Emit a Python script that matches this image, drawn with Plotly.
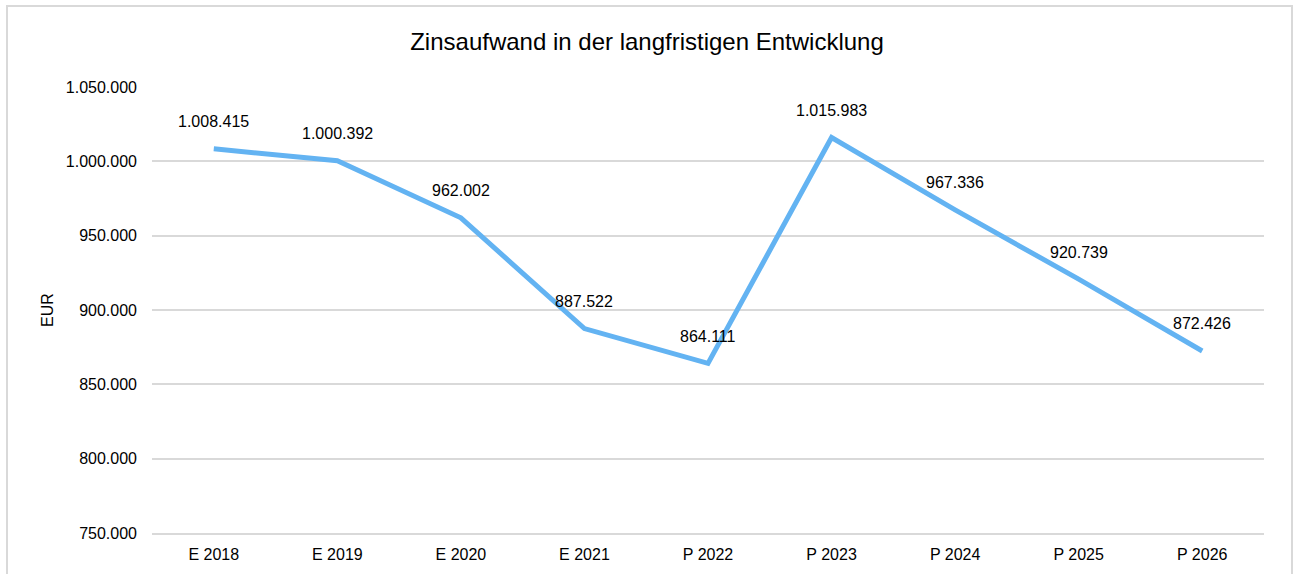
import plotly.graph_objects as go

categories = ["E 2018", "E 2019", "E 2020", "E 2021", "P 2022", "P 2023", "P 2024", "P 2025", "P 2026"]
values = [1008415, 1000392, 962002, 887522, 864111, 1015983, 967336, 920739, 872426]
y_ticks = [750000, 800000, 850000, 900000, 950000, 1000000, 1050000]

def fmt(v):
    return f"{v:,}".replace(",", ".")

W, H = 1294, 574
L, R, T, B = 152, 30, 87, 41
pw, ph = W - L - R, H - T - B
FONT = "Liberation Sans, Arial"

fig = go.Figure()
fig.add_trace(go.Scatter(
    x=categories, y=values, mode="lines",
    line=dict(color="#63B3F2", width=5),
    hoverinfo="x+y", showlegend=False,
))

for c, v in zip(categories, values):
    fig.add_annotation(x=c, y=v, text=fmt(v), showarrow=False, yshift=27,
                       font=dict(family=FONT, size=16, color="#000000"))

def px(x):
    return (x - L) / pw

def py(y):
    return (H - B - y) / ph

fig.add_shape(type="rect", xref="paper", yref="paper",
              x0=px(7), x1=px(1292), y0=py(590), y1=py(6),
              line=dict(color="#D9D9D9", width=2), fillcolor="rgba(0,0,0,0)", layer="below")

fig.update_layout(
    width=W, height=H,
    margin=dict(l=L, r=R, t=T, b=B),
    paper_bgcolor="white", plot_bgcolor="white",
    separators=",.",
    title=dict(text="Zinsaufwand in der langfristigen Entwicklung",
               x=0.5, xref="container", xanchor="center", y=1 - 42 / H, yanchor="middle",
               font=dict(family=FONT, size=24, color="#000000")),
    font=dict(family=FONT, size=16, color="#000000"),
    xaxis=dict(type="category", range=[-0.5, len(categories) - 0.5],
               showgrid=False, zeroline=False, ticks="",
               showline=True, linecolor="#D9D9D9", linewidth=2,
               ticklabelstandoff=6,
               tickfont=dict(family=FONT, size=16, color="#000000")),
    yaxis=dict(range=[750000, 1050000], tickvals=y_ticks, tickformat=",d",
               showgrid=True, gridcolor="#D9D9D9", gridwidth=2,
               zeroline=False, showline=False, ticks="", ticklabelstandoff=14,
               tickfont=dict(family=FONT, size=16, color="#000000"),
               title=dict(text="EUR", font=dict(family=FONT, size=16, color="#000000"), standoff=8)),
)

fig.write_html("out.html", config={"displayModeBar": False},
               post_script="document.body.style.margin='0';document.body.style.overflow='hidden';")
